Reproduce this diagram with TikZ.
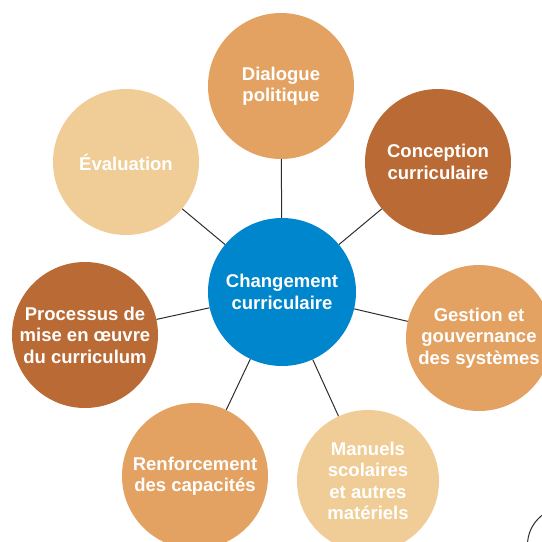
\documentclass[tikz,border=0pt]{standalone}
\usepackage{fontspec}
\setmainfont{Liberation Sans}
\usepackage{tikz}
\usetikzlibrary{positioning}

\definecolor{chgblue}{RGB}{0,134,204}
\definecolor{midorange}{RGB}{227,162,98}
\definecolor{darkbrown}{RGB}{185,106,53}
\definecolor{paleorange}{RGB}{240,204,150}
\definecolor{linkgray}{RGB}{45,45,45}

\begin{document}
\begin{tikzpicture}[
x=1pt, y=-1pt,
topic/.style={
  circle,
  draw=none,
  minimum size=146pt,
  inner sep=0pt,
  align=center,
  text=white,
  font=\bfseries\fontsize{18.5}{21.5}\selectfont
  },
link/.style={
  draw=linkgray,
  line width=1pt
  }
]
\useasboundingbox (0,0) rectangle (542,542);
\clip (0,0) rectangle (542,542);

% centre
\node[topic, fill=chgblue, minimum size=148pt] (chg) at (282,292)
  {Changement\\curriculaire};

% satellites
\node[topic, fill=midorange] (dia) at (281,86) {Dialogue\\politique};
\node[topic, fill=darkbrown] (con) at (438,162) {Conception\\curriculaire};
\node[topic, fill=midorange] (ges) at (479,338) {Gestion et\\gouvernance\\des systèmes};
\node[topic, fill=paleorange, minimum size=142pt] (man) at (368,481) {Manuels\\scolaires\\et autres\\matériels};
\node[topic, fill=midorange] (ren) at (195,476) {Renforcement\\des capacités};
\node[topic, fill=darkbrown] (pro) at (85,335) {Processus de\\mise en œuvre\\du curriculum};
\node[topic, fill=paleorange] (eva) at (126,162) {Évaluation};

\foreach \s in {dia,con,ges,man,ren,pro,eva}
  \draw[link] (chg) -- (\s);

% corner of the next figure
\draw[link] (565,545) circle[radius=37.5pt];

\end{tikzpicture}
\end{document}
